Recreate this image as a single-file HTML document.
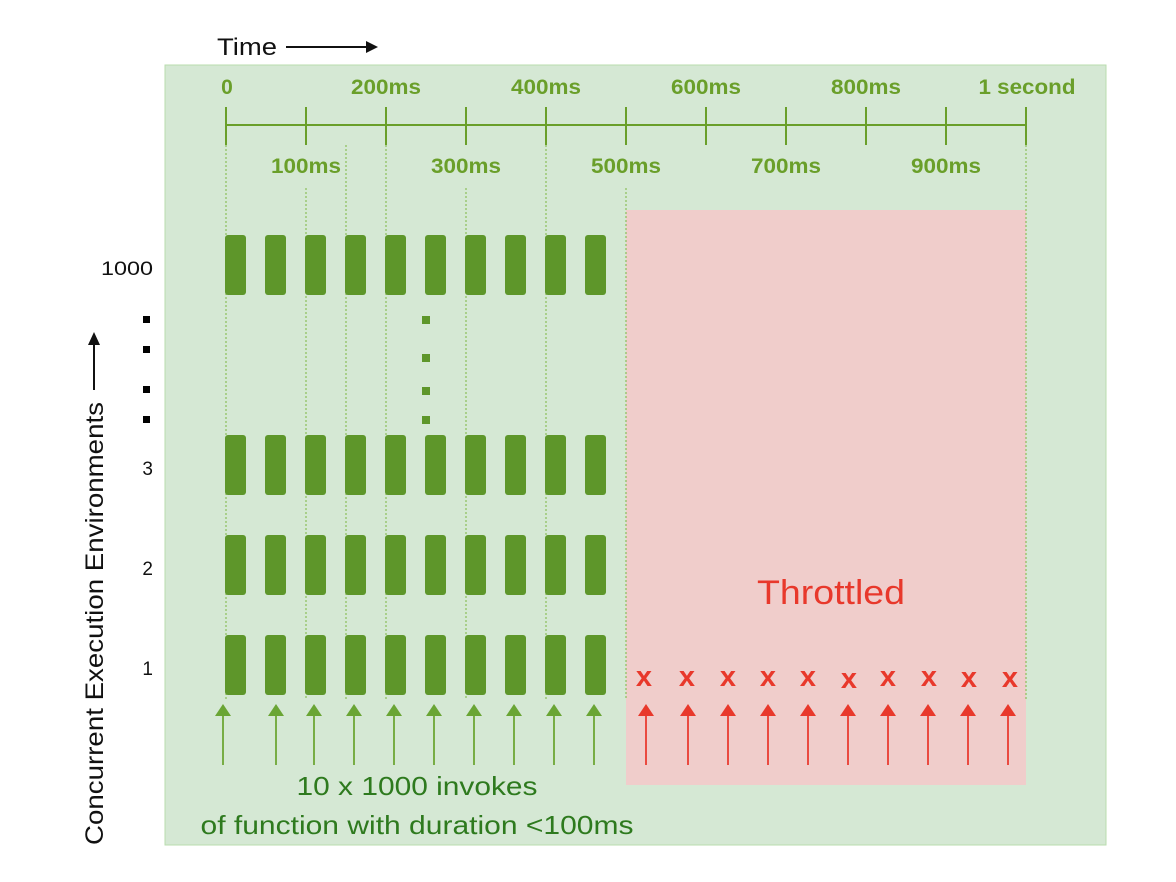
<!DOCTYPE html>
<html><head><meta charset="utf-8"><style>
html,body{margin:0;padding:0;background:#fff;}
svg{display:block;font-family:"Liberation Sans",sans-serif;}
</style></head><body>
<svg width="1176" height="882" viewBox="0 0 1176 882" xmlns="http://www.w3.org/2000/svg">
<text x="217" y="55" font-size="24" fill="#111" textLength="60" lengthAdjust="spacingAndGlyphs">Time</text>
<line x1="286" y1="47" x2="370" y2="47" stroke="#111" stroke-width="2"/>
<path d="M366,41 L378,47 L366,53 Z" fill="#111"/>
<rect x="165" y="65" width="941" height="780" fill="#d5e8d4" stroke="#b9dcae" stroke-width="1"/>
<rect x="626" y="210" width="400" height="575" fill="#f0cdcb"/>
<g stroke="#6a9f2a" stroke-width="2" fill="none">
<line x1="226" y1="125" x2="1026" y2="125"/>
<line x1="226" y1="107" x2="226" y2="145"/><line x1="306" y1="107" x2="306" y2="145"/>
<line x1="386" y1="107" x2="386" y2="145"/><line x1="466" y1="107" x2="466" y2="145"/>
<line x1="546" y1="107" x2="546" y2="145"/><line x1="626" y1="107" x2="626" y2="145"/>
<line x1="706" y1="107" x2="706" y2="145"/><line x1="786" y1="107" x2="786" y2="145"/>
<line x1="866" y1="107" x2="866" y2="145"/><line x1="946" y1="107" x2="946" y2="145"/>
<line x1="1026" y1="107" x2="1026" y2="145"/>
</g>
<g stroke="#8cbf5a" stroke-width="1.2" stroke-dasharray="2,2">
<line x1="226" y1="145" x2="226" y2="700"/><line x1="306" y1="188" x2="306" y2="700"/>
<line x1="346" y1="145" x2="346" y2="700"/><line x1="386" y1="145" x2="386" y2="700"/>
<line x1="466" y1="188" x2="466" y2="700"/><line x1="546" y1="145" x2="546" y2="700"/>
<line x1="626" y1="188" x2="626" y2="700"/><line x1="1026" y1="145" x2="1026" y2="700"/>
</g>
<g font-size="21" font-weight="bold" fill="#6a9f2a" text-anchor="middle">
<text x="227" y="94">0</text>
<text x="386" y="94" textLength="70" lengthAdjust="spacingAndGlyphs">200ms</text>
<text x="546" y="94" textLength="70" lengthAdjust="spacingAndGlyphs">400ms</text>
<text x="706" y="94" textLength="70" lengthAdjust="spacingAndGlyphs">600ms</text>
<text x="866" y="94" textLength="70" lengthAdjust="spacingAndGlyphs">800ms</text>
<text x="1027" y="94" textLength="97" lengthAdjust="spacingAndGlyphs">1 second</text>
<text x="306" y="173" textLength="70" lengthAdjust="spacingAndGlyphs">100ms</text>
<text x="466" y="173" textLength="70" lengthAdjust="spacingAndGlyphs">300ms</text>
<text x="626" y="173" textLength="70" lengthAdjust="spacingAndGlyphs">500ms</text>
<text x="786" y="173" textLength="70" lengthAdjust="spacingAndGlyphs">700ms</text>
<text x="946" y="173" textLength="70" lengthAdjust="spacingAndGlyphs">900ms</text>
</g>
<g fill="#5e962a">
<g id="row">
<rect x="225" y="235" width="21" height="60" rx="3"/><rect x="265" y="235" width="21" height="60" rx="3"/>
<rect x="305" y="235" width="21" height="60" rx="3"/><rect x="345" y="235" width="21" height="60" rx="3"/>
<rect x="385" y="235" width="21" height="60" rx="3"/><rect x="425" y="235" width="21" height="60" rx="3"/>
<rect x="465" y="235" width="21" height="60" rx="3"/><rect x="505" y="235" width="21" height="60" rx="3"/>
<rect x="545" y="235" width="21" height="60" rx="3"/><rect x="585" y="235" width="21" height="60" rx="3"/>
</g>
<use href="#row" y="200"/><use href="#row" y="300"/><use href="#row" y="400"/>
<rect x="422" y="316" width="8" height="8"/><rect x="422" y="354" width="8" height="8"/>
<rect x="422" y="387" width="8" height="8"/><rect x="422" y="416" width="8" height="8"/>
</g>
<g fill="#000">
<rect x="143" y="316" width="7" height="7"/><rect x="143" y="346" width="7" height="7"/>
<rect x="143" y="386" width="7" height="7"/><rect x="143" y="416" width="7" height="7"/>
</g>
<g font-size="19" fill="#111" text-anchor="end">
<text x="153" y="275" textLength="52" lengthAdjust="spacingAndGlyphs">1000</text><text x="153" y="475">3</text><text x="153" y="575">2</text><text x="153" y="675">1</text>
</g>
<g transform="translate(103,845) rotate(-90)">
<text x="0" y="0" font-size="25" fill="#111" textLength="443" lengthAdjust="spacingAndGlyphs">Concurrent Execution Environments</text>
<line x1="455" y1="-9" x2="505" y2="-9" stroke="#111" stroke-width="2"/>
<path d="M500,-15 L513,-9 L500,-3 Z" fill="#111"/>
</g>
<g stroke="#78ad45" stroke-width="2">
<line x1="223" y1="712" x2="223" y2="765"/><line x1="276" y1="712" x2="276" y2="765"/>
<line x1="314" y1="712" x2="314" y2="765"/><line x1="354" y1="712" x2="354" y2="765"/>
<line x1="394" y1="712" x2="394" y2="765"/><line x1="434" y1="712" x2="434" y2="765"/>
<line x1="474" y1="712" x2="474" y2="765"/><line x1="514" y1="712" x2="514" y2="765"/>
<line x1="554" y1="712" x2="554" y2="765"/><line x1="594" y1="712" x2="594" y2="765"/>
</g>
<g fill="#6aa534">
<path d="M215,716 L223,704 L231,716Z"/><path d="M268,716 L276,704 L284,716Z"/>
<path d="M306,716 L314,704 L322,716Z"/><path d="M346,716 L354,704 L362,716Z"/>
<path d="M386,716 L394,704 L402,716Z"/><path d="M426,716 L434,704 L442,716Z"/>
<path d="M466,716 L474,704 L482,716Z"/><path d="M506,716 L514,704 L522,716Z"/>
<path d="M546,716 L554,704 L562,716Z"/><path d="M586,716 L594,704 L602,716Z"/>
</g>
<g stroke="#ea4a40" stroke-width="2">
<line x1="646" y1="712" x2="646" y2="765"/><line x1="688" y1="712" x2="688" y2="765"/>
<line x1="728" y1="712" x2="728" y2="765"/><line x1="768" y1="712" x2="768" y2="765"/>
<line x1="808" y1="712" x2="808" y2="765"/><line x1="848" y1="712" x2="848" y2="765"/>
<line x1="888" y1="712" x2="888" y2="765"/><line x1="928" y1="712" x2="928" y2="765"/>
<line x1="968" y1="712" x2="968" y2="765"/><line x1="1008" y1="712" x2="1008" y2="765"/>
</g>
<g fill="#e8382b">
<path d="M638,716 L646,704 L654,716Z"/><path d="M680,716 L688,704 L696,716Z"/>
<path d="M720,716 L728,704 L736,716Z"/><path d="M760,716 L768,704 L776,716Z"/>
<path d="M800,716 L808,704 L816,716Z"/><path d="M840,716 L848,704 L856,716Z"/>
<path d="M880,716 L888,704 L896,716Z"/><path d="M920,716 L928,704 L936,716Z"/>
<path d="M960,716 L968,704 L976,716Z"/><path d="M1000,716 L1008,704 L1016,716Z"/>
</g>
<g font-size="29" font-weight="bold" fill="#e8382b" text-anchor="middle">
<text x="644" y="686">x</text><text x="687" y="686">x</text><text x="728" y="686">x</text>
<text x="768" y="686">x</text><text x="808" y="686">x</text><text x="849" y="688">x</text>
<text x="888" y="686">x</text><text x="929" y="686">x</text><text x="969" y="687">x</text>
<text x="1010" y="687">x</text>
</g>
<text x="831" y="604" font-size="34" fill="#e8382b" text-anchor="middle" textLength="148" lengthAdjust="spacingAndGlyphs">Throttled</text>
<g font-size="26" fill="#2e7a1e" text-anchor="middle">
<text x="417" y="795" textLength="241" lengthAdjust="spacingAndGlyphs">10 x 1000 invokes</text>
<text x="417" y="834" textLength="433" lengthAdjust="spacingAndGlyphs">of function with duration &lt;100ms</text>
</g>
</svg>
</body></html>
